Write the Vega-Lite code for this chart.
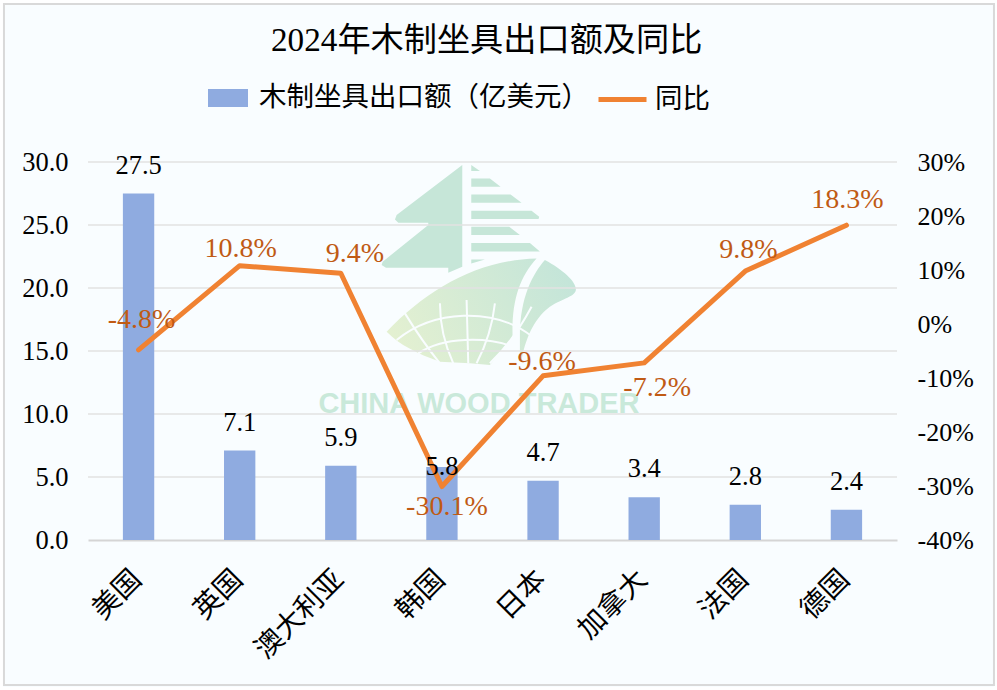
{"$schema":"https://vega.github.io/schema/vega-lite/v6.json","width":809,"height":378,"padding":{"left":88,"top":162,"right":100,"bottom":150},"autosize":{"type":"none"},"background":"#f9fdff",
"config":{"view":{"stroke":null},"font":"Liberation Serif"},
"title":{"text":"2024年木制坐具出口额及同比","font":"Liberation Serif, Noto Sans CJK SC","fontSize":33.2,"fontWeight":"normal","color":"#000","anchor":"start","frame":"group","offset":0,"dy":63,"dx":183},
"data":{"values":[
{"c":"美国","v":27.5,"y":-4.8,"l":"-4.8%"},
{"c":"英国","v":7.1,"y":10.8,"l":"10.8%"},
{"c":"澳大利亚","v":5.9,"y":9.4,"l":"9.4%"},
{"c":"韩国","v":5.8,"y":-30.1,"l":"-30.1%"},
{"c":"日本","v":4.7,"y":-9.6,"l":"-9.6%"},
{"c":"加拿大","v":3.4,"y":-7.2,"l":"-7.2%"},
{"c":"法国","v":2.8,"y":9.8,"l":"9.8%"},
{"c":"德国","v":2.4,"y":18.3,"l":"18.3%"}]},
"encoding":{"x":{"field":"c","type":"nominal","scale":{"domain":["美国","英国","澳大利亚","韩国","日本","加拿大","法国","德国"],"paddingInner":0.69,"paddingOuter":0.345},"axis":{"title":null,"labelAngle":-45,"labelFontSize":28,"labelFont":"Noto Sans CJK SC","labelColor":"#000","domainColor":"#d5d5d5","domainWidth":2,"ticks":false,"labelPadding":25,"labelOffset":-11}}},
"layer":[
{"data":{"values":[{"c":"美国","b":0}]},"mark":{"type":"point","filled":false,"fill":null,"stroke":"#ffffff","strokeWidth":3,"opacity":1,"size":4,"shape":"M-137,-538.5L857,-538.5L857,148.5L-137,148.5Z"},"encoding":{"y":{"field":"b","type":"quantitative","scale":{"domain":[0,30]},"axis":null}}},
{"data":{"values":[{"c":"美国","b":0}]},"mark":{"type":"point","filled":false,"fill":null,"stroke":"#d9d9d9","strokeWidth":2,"opacity":1,"size":4,"shape":"M-134.6,-536L855.4,-536L855.4,145L-134.6,145Z"},"encoding":{"y":{"field":"b","type":"quantitative","scale":{"domain":[0,30]},"axis":null}}},
{"data":{"values":[{"c":"韩国","b":15}]},"mark":{"type":"point","filled":true,"fill":"#c6e6d8","opacity":1,"size":0.444,"shape":"M61,-558L-136,-408L-141,-395L-131,-385L-41,-385L-41,-378L-178,-268L-181,-258L-168,-250L19,-250L19,-235L61,-253ZM88,-558L114,-540L88,-540ZM88,-518L144,-518L176,-493L88,-493ZM88,-470L206,-470L239,-445L88,-445ZM88,-421L269,-421L292,-403L290,-396L88,-396ZM88,-373L202,-373L234,-348L88,-348ZM88,-324L264,-324L294,-299L88,-299ZM88,-275L129,-275L88,-263Z"},"encoding":{"y":{"field":"b","type":"quantitative","scale":{"domain":[0,30]},"axis":null}}},
{"data":{"values":[{"c":"韩国","b":15}]},"mark":{"type":"point","filled":true,"opacity":1,"size":0.444,"fill":{"gradient":"linear","x1":0,"y1":0.6,"x2":1,"y2":0.3,"stops":[{"offset":0,"color":"#e3f0d1"},{"offset":1,"color":"#c4e5d9"}]},"shape":"M-166,-58C-46,-183,104,-273,284,-278C234,-223,209,-153,212,-43L144,42L84,37L-6,32C-76,7,-126,-18,-166,-58ZM309,-273C364,-243,404,-208,402,-183C399,-163,364,-158,324,-133C284,-103,254,-53,239,27L234,27L234,-43C234,-163,274,-233,309,-273Z"},"encoding":{"y":{"field":"b","type":"quantitative","scale":{"domain":[0,30]},"axis":null}}},
{"data":{"values":[{"c":"韩国","b":15}]},"mark":{"type":"point","filled":false,"opacity":1,"fill":null,"stroke":"#f9fdff","strokeWidth":2,"size":0.444,"shape":"M-136,-33C-26,-123,154,-133,269,-45M-71,7C4,-43,134,-43,214,-13M-111,-113Q-60,-30,-6,37M-6,-143Q-6,-50,34,37M74,-153L79,37M159,-143Q149,-50,104,37M269,-133Q214,-30,144,37"},"encoding":{"y":{"field":"b","type":"quantitative","scale":{"domain":[0,30]},"axis":null}}},
{"data":{"values":[{"c":"韩国","b":10.8,"t":"CHINA WOOD TRADER"}]},"mark":{"type":"text","font":"Liberation Sans","fontWeight":"bold","fontSize":29,"color":"#c9e9da","dx":37,"baseline":"middle"},"encoding":{"y":{"field":"b","type":"quantitative","scale":{"domain":[0,30]},"axis":null},"text":{"field":"t"}}},
{"data":{"values":[{"g":5},{"g":10},{"g":15},{"g":20},{"g":25},{"g":30}]},"mark":{"type":"rule","color":"#e2e2e2","strokeWidth":1.5},"encoding":{"x":null,"y":{"field":"g","type":"quantitative","scale":{"domain":[0,30]},"axis":null}}},
{"mark":{"type":"bar"},"encoding":{"y":{"field":"v","type":"quantitative","scale":{"domain":[0,30]},"axis":{"title":null,"values":[0,5,10,15,20,25,30],"format":".1f","labelFont":"Liberation Serif","labelFontSize":26.5,"labelColor":"#000","domain":false,"ticks":false,"grid":false,"labelPadding":20}},"color":{"datum":"木制坐具出口额（亿美元）","scale":{"range":["#8FABE0"]},"legend":{"title":null,"orient":"none","legendX":120,"legendY":-84,"padding":0,"symbolType":"M-1,-0.45H1V0.45H-1Z","symbolSize":1600,"symbolStrokeWidth":0,"symbolOpacity":1,"labelOffset":11,"labelFont":"Noto Sans CJK SC","labelFontSize":27.5,"labelColor":"#000","labelLimit":500}}}},
{"transform":[{"filter":"datum.c!=='韩国'"}],"mark":{"type":"text","font":"Liberation Serif","fontSize":26.5,"dy":-28,"baseline":"middle","color":"#000"},"encoding":{"y":{"field":"v","type":"quantitative","scale":{"domain":[0,30]},"axis":null},"text":{"field":"v","format":".1f"}}},
{"mark":{"type":"line","strokeWidth":5,"strokeCap":"round","strokeJoin":"round"},"encoding":{"y":{"field":"y","type":"quantitative","scale":{"domain":[-40,30]},"axis":{"title":null,"orient":"right","values":[-40,-30,-20,-10,0,10,20,30],"labelExpr":"datum.value+'%'","labelFont":"Liberation Serif","labelFontSize":26,"labelColor":"#000","domain":false,"ticks":false,"grid":false,"labelPadding":20}},"color":{"datum":"同比","scale":{"range":["#F08232"]},"legend":{"title":null,"orient":"none","legendX":508,"legendY":-89,"padding":0,"symbolType":"stroke","symbolSize":2304,"symbolStrokeWidth":5,"symbolOpacity":1,"labelOffset":6,"labelFont":"Noto Sans CJK SC","labelFontSize":27.5,"labelColor":"#000"}}}},
{"transform":[{"filter":"datum.c==='韩国'"}],"mark":{"type":"text","font":"Liberation Serif","fontSize":26.5,"dy":0,"baseline":"middle","color":"#000"},"encoding":{"y":{"field":"v","type":"quantitative","scale":{"domain":[0,30]},"axis":null},"text":{"field":"v","format":".1f"}}},
{"transform":[{"filter":"datum.c==='美国'"}],"mark":{"type":"text","font":"Liberation Serif","fontSize":28,"dx":3,"dy":-30,"baseline":"middle","color":"#C05A14"},"encoding":{"y":{"field":"y","type":"quantitative","scale":{"domain":[-40,30]},"axis":null},"text":{"field":"l"}}},
{"transform":[{"filter":"datum.c==='英国'"}],"mark":{"type":"text","font":"Liberation Serif","fontSize":28,"dx":1,"dy":-17,"baseline":"middle","color":"#C05A14"},"encoding":{"y":{"field":"y","type":"quantitative","scale":{"domain":[-40,30]},"axis":null},"text":{"field":"l"}}},
{"transform":[{"filter":"datum.c==='澳大利亚'"}],"mark":{"type":"text","font":"Liberation Serif","fontSize":28,"dx":14,"dy":-19,"baseline":"middle","color":"#C05A14"},"encoding":{"y":{"field":"y","type":"quantitative","scale":{"domain":[-40,30]},"axis":null},"text":{"field":"l"}}},
{"transform":[{"filter":"datum.c==='韩国'"}],"mark":{"type":"text","font":"Liberation Serif","fontSize":28,"dx":5,"dy":20,"baseline":"middle","color":"#C05A14"},"encoding":{"y":{"field":"y","type":"quantitative","scale":{"domain":[-40,30]},"axis":null},"text":{"field":"l"}}},
{"transform":[{"filter":"datum.c==='日本'"}],"mark":{"type":"text","font":"Liberation Serif","fontSize":28,"dx":-1,"dy":-14,"baseline":"middle","color":"#C05A14"},"encoding":{"y":{"field":"y","type":"quantitative","scale":{"domain":[-40,30]},"axis":null},"text":{"field":"l"}}},
{"transform":[{"filter":"datum.c==='加拿大'"}],"mark":{"type":"text","font":"Liberation Serif","fontSize":28,"dx":13,"dy":25,"baseline":"middle","color":"#C05A14"},"encoding":{"y":{"field":"y","type":"quantitative","scale":{"domain":[-40,30]},"axis":null},"text":{"field":"l"}}},
{"transform":[{"filter":"datum.c==='法国'"}],"mark":{"type":"text","font":"Liberation Serif","fontSize":28,"dx":3,"dy":-21,"baseline":"middle","color":"#C05A14"},"encoding":{"y":{"field":"y","type":"quantitative","scale":{"domain":[-40,30]},"axis":null},"text":{"field":"l"}}},
{"transform":[{"filter":"datum.c==='德国'"}],"mark":{"type":"text","font":"Liberation Serif","fontSize":28,"dx":1,"dy":-25,"baseline":"middle","color":"#C05A14"},"encoding":{"y":{"field":"y","type":"quantitative","scale":{"domain":[-40,30]},"axis":null},"text":{"field":"l"}}}
],
"resolve":{"scale":{"y":"independent","color":"independent"},"legend":{"color":"independent"},"axis":{"y":"independent"}}}
